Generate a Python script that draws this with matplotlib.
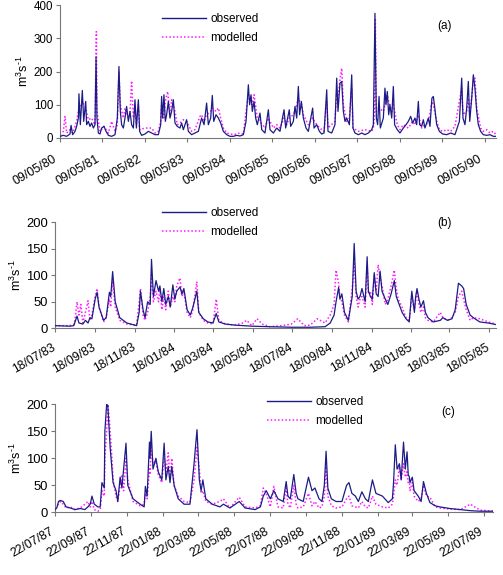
import matplotlib
matplotlib.use("Agg")
import matplotlib.pyplot as plt
import matplotlib.transforms as mtransforms
import pandas as pd
import numpy as np

plt.rcParams['font.family'] = ['Liberation Sans', 'DejaVu Sans']
plt.rcParams['mathtext.fontset'] = 'custom'
plt.rcParams['mathtext.rm'] = 'Liberation Sans'
plt.rcParams['mathtext.it'] = 'Liberation Sans:italic'

# ---------------- Panel (a) ----------------
start_a = "1980-05-09"
obs_a_days = [0, 29, 57, 86, 95, 109, 129, 143, 158, 163, 175, 192, 204, 221, 229, 244, 258, 272, 287, 301,
              310, 318, 330, 344, 358, 378, 396, 416, 444, 473, 493, 507, 519, 530, 545, 559, 573, 588, 602, 616,
              631, 645, 657, 674, 685, 702, 731, 760, 788, 817, 846, 866, 874, 883, 894, 906, 917, 932, 946, 960,
              975, 989, 1009, 1032, 1046, 1061, 1089, 1104, 1132, 1161, 1190, 1204, 1218, 1239, 1261, 1276, 1296,
              1310, 1322, 1342, 1362, 1382, 1405, 1434, 1462, 1491, 1520, 1548, 1577, 1600, 1620, 1631, 1643, 1654,
              1669, 1683, 1697, 1720, 1735, 1763, 1792, 1806, 1835, 1864, 1892, 1927, 1941, 1972, 1984, 2007, 2021,
              2036, 2050, 2061, 2076, 2093, 2116, 2136, 2173, 2185, 2208, 2231, 2251, 2271, 2294, 2305, 2337, 2365,
              2380, 2391, 2408, 2423, 2437, 2451, 2466, 2489, 2509, 2520, 2537, 2566, 2595, 2623, 2652, 2681, 2695,
              2709, 2721, 2732, 2744, 2755, 2781, 2795, 2804, 2815, 2827, 2838, 2853, 2867, 2878, 2901, 2924, 2953,
              2976, 2996, 3016, 3033, 3053, 3068, 3082, 3093, 3111, 3125, 3139, 3168, 3182, 3199, 3211, 3222, 3240,
              3263, 3291, 3326, 3360, 3397, 3435, 3455, 3466, 3483, 3498, 3512, 3524, 3541, 3555, 3569, 3584, 3598,
              3618, 3641, 3670, 3698, 3727, 3750]
obs_a_vals = [5, 8, 5, 12, 38, 10, 20, 35, 60, 133, 40, 143, 50, 110, 40, 50, 35, 45, 30, 40,
              243, 60, 15, 12, 30, 35, 20, 8, 5, 10, 60, 215, 80, 40, 30, 60, 95, 50, 80, 40,
              30, 115, 30, 115, 20, 8, 12, 20, 15, 10, 10, 40, 125, 60, 130, 50, 70, 110, 60, 80,
              115, 45, 35, 30, 45, 25, 55, 20, 10, 15, 20, 40, 60, 40, 105, 40, 60,
              128, 50, 70, 60, 45, 20, 10, 5, 5, 8, 6, 10, 50, 160, 100, 130, 80,
              110, 60, 40, 75, 25, 15, 85, 25, 15, 30, 20, 85, 30, 85, 35, 50, 95,
              60, 155, 70, 110, 60, 30, 20, 90, 30, 40, 20, 12, 15, 145, 20, 15, 40,
              180, 80, 165, 170, 80, 50, 60, 40, 190, 30, 15, 10, 15, 10, 15, 25, 40,
              375, 60, 40, 125, 30, 60, 150, 100, 140, 70, 100, 60, 155, 40, 25, 15, 30,
              40, 50, 65, 45, 60, 40, 110, 40, 35, 55, 30, 60, 35, 120, 125, 95, 40,
              20, 12, 10, 15, 10, 50, 180, 60, 40, 90, 170, 50, 120, 190, 150, 80, 40,
              20, 10, 8, 10, 5, 5]
mod_a_days = [0, 29, 43, 57, 86, 109, 143, 163, 192, 221, 244, 272, 301, 313, 318, 344, 378, 416, 444, 473,
              493, 507, 519, 545, 559, 588, 602, 616, 631, 645, 657, 674, 685, 731, 788, 817, 846, 866, 874, 894,
              906, 926, 946, 960, 989, 1009, 1032, 1061, 1089, 1132, 1161, 1204, 1218, 1239, 1261, 1296, 1310,
              1342, 1362, 1382, 1405, 1434, 1491, 1548, 1577, 1600, 1620, 1643, 1654, 1669, 1697, 1720, 1763,
              1792, 1835, 1864, 1892, 1927, 1950, 1972, 2007, 2021, 2036, 2050, 2076, 2093, 2136, 2173, 2208,
              2251, 2271, 2294, 2305, 2365, 2380, 2391, 2408, 2423, 2437, 2466, 2489, 2509, 2520, 2566, 2623,
              2681, 2695, 2705, 2712, 2721, 2744, 2781, 2795, 2815, 2827, 2853, 2867, 2901, 2924, 2953, 2996,
              3033, 3053, 3082, 3111, 3139, 3168, 3199, 3211, 3240, 3263, 3291, 3326, 3360, 3397, 3455, 3466,
              3498, 3512, 3524, 3555, 3569, 3584, 3618, 3641, 3670, 3698, 3727, 3750]
mod_a_vals = [10, 20, 65, 15, 25, 15, 50, 90, 110, 90, 55, 60, 40, 320, 80, 20, 35, 15, 50, 20,
              40, 200, 100, 60, 90, 60, 70, 172, 60, 100, 40, 100, 25, 30, 30, 15, 20, 50, 100, 60,
              110, 140, 70, 115, 80, 40, 45, 55, 50, 20, 25, 65, 70, 50, 70, 80, 90,
              80, 90, 60, 30, 15, 10, 15, 12, 80, 130, 120, 100, 130, 60, 50, 30,
              60, 30, 40, 30, 60, 40, 60, 70, 80, 100, 120, 100, 70, 40, 60, 40,
              25, 20, 110, 30, 50, 140, 120, 175, 210, 100, 50, 60, 150, 30, 20, 25,
              20, 30, 60, 360, 80, 90, 80, 100, 130, 110, 80, 100, 40, 25, 40, 30,
              50, 40, 70, 30, 40, 45, 110, 100, 50, 25, 20, 25, 20, 35, 150, 70,
              80, 120, 70, 170, 180, 90, 30, 20, 25, 15, 20, 10]
ticks_a = ["09/05/80", "09/05/81", "09/05/82", "09/05/83", "09/05/84", "09/05/85",
           "09/05/86", "09/05/87", "09/05/88", "09/05/89", "09/05/90"]

# ---------------- Panel (b) ----------------
start_b = "1983-07-18"
obs_b_days = [0, 23, 29, 34, 37, 43, 47, 51, 54, 57, 62, 65, 68, 75, 79, 84, 86, 89, 93, 100, 111, 126, 130,
              132, 136, 139, 143, 147, 149, 152, 156, 160, 162, 165, 168, 171, 175, 178, 182, 185, 188, 193,
              196, 199, 204, 209, 213, 219, 222, 229, 236, 244, 249, 253, 263, 278, 304, 332, 365, 394, 417,
              425, 431, 434, 438, 440, 443, 447, 453, 459, 462, 465, 468, 471, 474, 479, 482, 484, 487, 490,
              493, 496, 499, 502, 505, 510, 514, 519, 524, 527, 530, 536, 542, 547, 551, 555, 557, 559, 562,
              565, 569, 572, 576, 584, 595, 599, 606, 613, 618, 623, 628, 631, 635, 641, 646, 656, 669, 681]
obs_b_vals = [5, 4, 5, 23, 10, 8, 15, 10, 20, 18, 55, 68, 40, 15, 20, 68, 60, 107, 50, 20, 10, 5, 30,
              70, 35, 20, 50, 45, 130, 60, 90, 70, 80, 50, 75, 45, 60, 40, 82, 55, 70, 78,
              65, 75, 35, 25, 40, 70, 30, 18, 12, 10, 28, 12, 8, 6, 4, 3, 2, 2, 3,
              10, 25, 50, 77, 55, 65, 30, 15, 60, 160, 70, 55, 60, 75, 50, 135, 70, 60, 55,
              105, 65, 60, 108, 70, 55, 45, 65, 90, 60, 50, 30, 18, 12, 70, 30, 60, 75, 55,
              40, 52, 30, 20, 12, 15, 20, 15, 18, 35, 85, 80, 75, 45, 25, 20, 12, 10, 7]
mod_b_days = [0, 23, 30, 34, 37, 40, 43, 47, 51, 54, 57, 62, 65, 68, 75, 79, 84, 86, 89, 93, 100, 111, 126,
              130, 132, 136, 139, 143, 147, 149, 152, 156, 160, 162, 165, 168, 171, 175, 178, 182, 185, 188,
              193, 196, 199, 204, 209, 213, 219, 222, 229, 236, 244, 249, 253, 263, 278, 290, 296, 304, 312,
              320, 332, 350, 365, 375, 385, 394, 405, 417, 425, 431, 434, 438, 440, 443, 447, 453, 459, 462,
              465, 468, 471, 474, 479, 482, 484, 487, 490, 493, 496, 499, 502, 505, 510, 514, 519, 524, 527,
              530, 536, 542, 547, 551, 555, 559, 562, 565, 569, 572, 576, 584, 595, 599, 606, 613, 618, 623,
              628, 631, 635, 641, 646, 656, 669, 681]
mod_b_vals = [5, 5, 8, 50, 25, 45, 10, 30, 52, 15, 25, 60, 75, 40, 12, 20, 55, 40, 90, 40, 15, 8, 6,
              50, 75, 25, 15, 30, 60, 100, 50, 70, 50, 75, 35, 60, 35, 70, 40, 60, 50, 80,
              95, 60, 70, 30, 20, 35, 88, 30, 15, 10, 8, 55, 15, 8, 6, 10, 15, 5, 18,
              8, 3, 5, 8, 18, 5, 6, 18, 10, 25, 45, 110, 85, 60, 50, 25, 12, 75, 125,
              60, 40, 55, 60, 40, 120, 65, 70, 45, 100, 70, 120, 95, 80, 45, 55, 80, 110, 75,
              55, 40, 20, 15, 60, 35, 70, 45, 30, 40, 20, 15, 12, 30, 20, 15, 20, 30, 60,
              70, 55, 35, 15, 20, 18, 12, 8]
ticks_b = ["18/07/83", "18/09/83", "18/11/83", "18/01/84", "18/03/84", "18/05/84",
           "18/07/84", "18/09/84", "18/11/84", "18/01/85", "18/03/85", "18/05/85"]

# ---------------- Panel (c) ----------------
start_c = "1987-07-22"
obs_c_days = [0, 3, 6, 9, 14, 19, 26, 34, 43, 51, 56, 60, 63, 67, 73, 77, 80, 84, 85, 88, 90, 94, 99, 104,
              107, 111, 114, 121, 124, 133, 145, 152, 154, 157, 161, 162, 164, 167, 172, 176, 182, 186, 189,
              193, 196, 199, 203, 210, 220, 230, 237, 242, 246, 249, 252, 257, 268, 281, 287, 298, 314, 324,
              341, 350, 355, 360, 367, 373, 380, 389, 394, 397, 401, 407, 411, 414, 423, 432, 438, 443, 450,
              455, 459, 462, 465, 471, 479, 489, 497, 501, 506, 512, 517, 523, 529, 534, 541, 547, 558, 568,
              575, 577, 580, 583, 587, 590, 594, 597, 600, 602, 604, 605, 609, 612, 619, 624, 628, 633, 639,
              648, 656, 673, 691, 708, 725, 747]
obs_c_vals = [5, 8, 20, 22, 20, 10, 8, 5, 7, 5, 10, 15, 30, 15, 10, 10, 55, 45, 150, 200, 198, 120, 55, 40,
              20, 65, 45, 128, 50, 25, 15, 10, 48, 30, 130, 100, 150, 80, 100, 75, 60, 128, 60,
              85, 55, 85, 50, 25, 15, 15, 90, 153, 60, 40, 60, 25, 15, 10, 15, 8, 20, 8,
              5, 10, 30, 40, 25, 40, 25, 20, 57, 30, 25, 70, 35, 25, 20, 65, 40, 45, 25,
              20, 50, 113, 45, 25, 20, 20, 50, 55, 35, 30, 20, 38, 25, 20, 60, 35, 30, 18,
              25, 55, 125, 80, 90, 60, 130, 80, 112, 70, 65, 55, 65, 40, 30, 20, 57, 35, 18,
              12, 10, 7, 5, 3, 2, 2]
mod_c_days = [0, 6, 9, 14, 19, 26, 34, 43, 51, 56, 60, 63, 67, 73, 77, 80, 84, 85, 88, 90, 92, 94, 97, 99,
              104, 107, 111, 114, 117, 121, 124, 133, 145, 152, 154, 157, 161, 162, 164, 167, 172, 176, 182,
              186, 189, 193, 196, 199, 203, 210, 220, 230, 237, 242, 246, 249, 252, 257, 268, 281, 287, 298,
              314, 324, 341, 350, 355, 360, 367, 373, 380, 389, 394, 397, 401, 407, 411, 414, 423, 432, 438,
              443, 450, 455, 459, 462, 465, 471, 479, 489, 497, 501, 506, 512, 517, 523, 529, 534, 541, 547,
              558, 568, 575, 577, 580, 583, 587, 590, 594, 597, 600, 602, 604, 605, 609, 612, 619, 624, 628,
              633, 639, 648, 656, 673, 691, 708, 715, 725, 747]
mod_c_vals = [8, 15, 20, 15, 8, 10, 5, 8, 15, 20, 10, 20, 5, 2, 5, 40, 30, 100, 150, 200, 180, 150, 100, 60,
              30, 20, 50, 70, 40, 100, 60, 20, 12, 15, 35, 25, 80, 70, 120, 90, 95, 70, 55,
              100, 75, 110, 60, 100, 50, 30, 20, 18, 60, 120, 80, 35, 40, 20, 15, 20, 25, 8,
              28, 10, 8, 12, 45, 35, 10, 48, 10, 8, 45, 15, 8, 50, 15, 8, 10, 35, 12,
              20, 8, 10, 30, 85, 30, 12, 8, 10, 25, 30, 12, 10, 8, 20, 10, 8, 30, 15,
              10, 8, 15, 30, 60, 50, 85, 60, 90, 65, 75, 55, 60, 40, 55, 30, 20, 25, 50,
              30, 28, 10, 8, 6, 5, 15, 10, 4, 2]
ticks_c = ["22/07/87", "22/09/87", "22/11/87", "22/01/88", "22/03/88", "22/05/88", "22/07/88",
           "22/09/88", "22/11/88", "22/01/89", "22/03/89", "22/05/89", "22/07/89"]

OBS_COLOR = "#1c1c86"
MOD_COLOR = "#ff1aff"
AX_COLOR = "#777777"
W, H = 503, 575

fig = plt.figure(figsize=(W / 100, H / 100), dpi=100)


def px_axes(l, t, r, b):
    return fig.add_axes([l / W, 1 - b / H, (r - l) / W, (b - t) / H])


def panel(ax, start, od, ov, md, mv, ticks, end_day, ymax, ystep, ytick_size, xtick_size,
          label_shift, legend_xy, letter, letter_xy):
    s = pd.Timestamp(start)
    ax.plot(s + pd.to_timedelta(md, unit="D"), mv, color=MOD_COLOR, lw=1.1,
            linestyle=(0, (1, 1.4)), zorder=2)
    ax.plot(s + pd.to_timedelta(od, unit="D"), ov, color=OBS_COLOR, lw=0.9, zorder=3)
    ax.set_xlim(s, s + pd.Timedelta(days=end_day))
    ax.set_ylim(0, ymax)
    ax.set_yticks(np.arange(0, ymax + 1, ystep))
    tdates = pd.to_datetime(ticks, format="%d/%m/%y")
    ax.set_xticks(tdates)
    ax.set_xticklabels(ticks, rotation=30, ha="right", va="top", rotation_mode="anchor",
                       fontsize=xtick_size)
    ax.tick_params(axis="y", labelsize=ytick_size, length=3, width=0.8, color=AX_COLOR, pad=2)
    ax.tick_params(axis="x", length=3, width=0.8, color=AX_COLOR, pad=2)
    off = mtransforms.ScaledTranslation(label_shift[0] / 100, -label_shift[1] / 100,
                                        fig.dpi_scale_trans)
    for lab in ax.get_xticklabels():
        lab.set_transform(lab.get_transform() + off)
    for sp in ["top", "right"]:
        ax.spines[sp].set_visible(False)
    for sp in ["left", "bottom"]:
        ax.spines[sp].set_color(AX_COLOR)
        ax.spines[sp].set_linewidth(0.8)
    ax.set_ylabel("m$^{3}$s$^{\u2010 1}$", fontsize=9, labelpad=2)
    h_obs, = ax.plot([], [], color=OBS_COLOR, lw=1.0)
    h_mod, = ax.plot([], [], color=MOD_COLOR, lw=1.1, linestyle=(0, (1, 1.4)))
    ax.legend([h_obs, h_mod], ["observed", "modelled"], loc="upper left",
              bbox_to_anchor=(legend_xy[0] / W, 1 - legend_xy[1] / H),
              bbox_transform=fig.transFigure, frameon=False, fontsize=8.5,
              borderpad=0, borderaxespad=0, handlelength=3.7, handletextpad=0.4,
              labelspacing=0.62)
    fig.text(letter_xy[0] / W, 1 - letter_xy[1] / H, letter, fontsize=8.5,
             ha="center", va="center")


ax_a = px_axes(60, 5, 496, 138)
panel(ax_a, start_a, obs_a_days, obs_a_vals, mod_a_days, mod_a_vals, ticks_a, 3750,
      400, 100, 8.3, 8.9, (-7, 8), (162, 13), "(a)", (445, 26))

ax_b = px_axes(55, 222.3, 496, 328.3)
panel(ax_b, start_b, obs_b_days, obs_b_vals, mod_b_days, mod_b_vals, ticks_b, 681,
      200, 50, 9.4, 8.7, (-3, 6), (162, 207), "(b)", (445, 223))

ax_c = px_axes(55, 404.3, 493.3, 512.3)
panel(ax_c, start_c, obs_c_days, obs_c_vals, mod_c_days, mod_c_vals, ticks_c, 747,
      200, 50, 9.4, 8.7, (-5, 6), (267, 396), "(c)", (448, 412))

fig.savefig("out.png", dpi=100)
